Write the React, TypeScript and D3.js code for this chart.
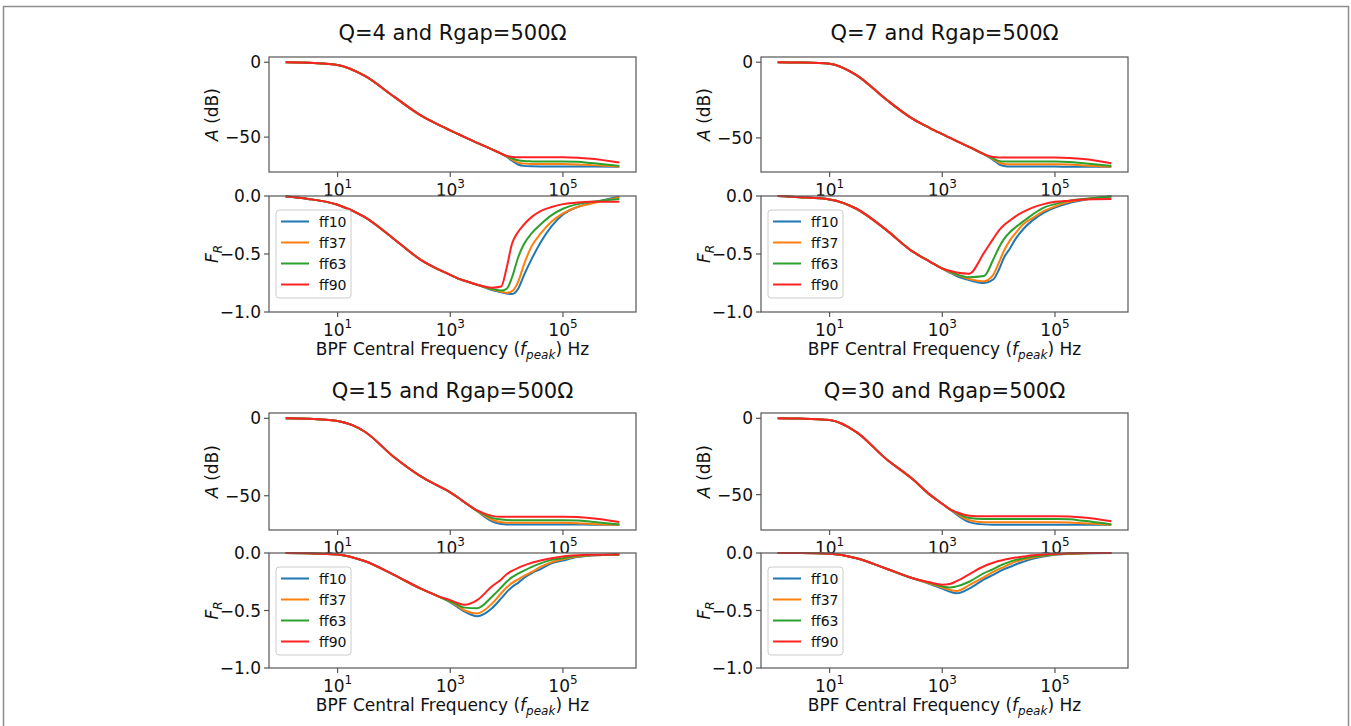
import React, { useEffect, useRef } from 'react';
import * as d3 from 'd3';

// BPF central frequencies (Hz) shared by every curve
const FREQ = [1.2, 3, 10, 30, 100, 300, 600, 1000, 1350, 1800, 3000, 5500, 8000, 10000, 12500, 16000, 20000, 28000, 40000, 63000, 100000, 180000, 320000, 1000000];

const SERIES = ['ff10', 'ff37', 'ff63', 'ff90'];
const COLORS = ['#1f77b4', '#ff7f0e', '#2ca02c', '#ff2222'];
const TITLES = ['Q=4 and Rgap=500Ω', 'Q=7 and Rgap=500Ω', 'Q=15 and Rgap=500Ω', 'Q=30 and Rgap=500Ω'];

// Q=4 : attenuation A (dB)
const Q4_A_FF10 = [0, -0.3, -1.8, -9, -23, -35.5, -41.5, -45.5, -47.8, -50, -53.8, -58.2, -61, -63.1, -65.8, -68.3, -69.2, -69.5, -69.6, -69.6, -69.6, -69.6, -69.7, -69.8];
const Q4_A_FF37 = [0, -0.3, -1.8, -9, -23, -35.5, -41.5, -45.5, -47.8, -50, -53.8, -58.2, -61, -62.9, -65, -67, -67.7, -68, -68, -68, -68, -68.2, -68.7, -69.6];
const Q4_A_FF63 = [0, -0.3, -1.8, -9, -23, -35.5, -41.5, -45.5, -47.8, -50, -53.8, -58.2, -61, -62.7, -64.3, -65.5, -66, -66.2, -66.3, -66.3, -66.3, -66.5, -67.3, -69.2];
const Q4_A_FF90 = [0, -0.3, -1.8, -9, -23, -35.5, -41.5, -45.5, -47.8, -50, -53.8, -58.2, -61, -62.5, -63.2, -63.5, -63.5, -63.5, -63.5, -63.5, -63.5, -63.8, -64.5, -67];
// Q=4 : F_R
const Q4_FR_FF10 = [-0.005, -0.025, -0.075, -0.18, -0.37, -0.55, -0.63, -0.68, -0.71, -0.73, -0.765, -0.81, -0.83, -0.84, -0.845, -0.8, -0.69, -0.54, -0.4, -0.26, -0.16, -0.095, -0.06, -0.006];
const Q4_FR_FF37 = [-0.005, -0.025, -0.075, -0.18, -0.37, -0.55, -0.63, -0.68, -0.71, -0.73, -0.765, -0.805, -0.825, -0.835, -0.82, -0.74, -0.6, -0.43, -0.325, -0.22, -0.15, -0.095, -0.065, -0.012];
const Q4_FR_FF63 = [-0.005, -0.025, -0.075, -0.18, -0.37, -0.55, -0.63, -0.68, -0.71, -0.73, -0.765, -0.8, -0.815, -0.8, -0.7, -0.53, -0.42, -0.32, -0.245, -0.165, -0.11, -0.07, -0.05, -0.025];
const Q4_FR_FF90 = [-0.005, -0.025, -0.075, -0.18, -0.37, -0.55, -0.63, -0.68, -0.71, -0.73, -0.765, -0.79, -0.78, -0.62, -0.41, -0.31, -0.25, -0.18, -0.13, -0.095, -0.07, -0.055, -0.05, -0.05];

// Q=7
const Q7_A_FF10 = [0, -0.2, -1, -8.5, -24.5, -37.5, -43.5, -47.5, -49.8, -52.1, -56, -60.8, -64.5, -67.3, -68.6, -69, -69, -69, -69, -69, -69, -69.1, -69.1, -69.1];
const Q7_A_FF37 = [0, -0.2, -1, -8.5, -24.5, -37.5, -43.5, -47.5, -49.8, -52.1, -56, -60.8, -64, -66.3, -67.2, -67.4, -67.4, -67.4, -67.4, -67.4, -67.4, -67.6, -68.2, -69];
const Q7_A_FF63 = [0, -0.2, -1, -8.5, -24.5, -37.5, -43.5, -47.5, -49.8, -52.1, -56, -60.8, -63.6, -65.2, -65.6, -65.6, -65.6, -65.6, -65.6, -65.6, -65.6, -65.9, -66.8, -68.5];
const Q7_A_FF90 = [0, -0.2, -1, -8.5, -24.5, -37.5, -43.5, -47.5, -49.8, -52.1, -56, -60.8, -62.7, -63, -63, -63, -63, -63, -63, -63, -63, -63.3, -64, -66.7];
const Q7_FR_FF10 = [0, -0.01, -0.03, -0.11, -0.29, -0.48, -0.565, -0.625, -0.66, -0.69, -0.725, -0.75, -0.72, -0.64, -0.53, -0.45, -0.37, -0.28, -0.21, -0.145, -0.1, -0.06, -0.035, -0.003];
const Q7_FR_FF37 = [0, -0.01, -0.03, -0.11, -0.29, -0.48, -0.565, -0.625, -0.655, -0.68, -0.715, -0.735, -0.68, -0.58, -0.47, -0.38, -0.32, -0.24, -0.19, -0.13, -0.09, -0.05, -0.03, -0.005];
const Q7_FR_FF63 = [0, -0.01, -0.03, -0.11, -0.29, -0.48, -0.565, -0.625, -0.65, -0.675, -0.7, -0.69, -0.55, -0.45, -0.37, -0.31, -0.27, -0.215, -0.16, -0.1, -0.07, -0.04, -0.025, -0.006];
const Q7_FR_FF90 = [0, -0.01, -0.03, -0.11, -0.29, -0.48, -0.565, -0.625, -0.645, -0.66, -0.67, -0.49, -0.37, -0.3, -0.25, -0.21, -0.175, -0.135, -0.1, -0.07, -0.05, -0.04, -0.03, -0.026];

// Q=15
const Q15_A_FF10 = [0, -0.3, -1.8, -8.5, -25, -37.5, -43.5, -47.8, -51, -54.3, -60, -66.5, -68.3, -68.6, -68.6, -68.6, -68.6, -68.6, -68.6, -68.6, -68.6, -68.6, -68.7, -68.7];
const Q15_A_FF37 = [0, -0.3, -1.8, -8.5, -25, -37.5, -43.5, -47.8, -51, -54.3, -59.8, -65.5, -67.2, -67.5, -67.5, -67.5, -67.5, -67.5, -67.5, -67.5, -67.5, -67.7, -68.2, -68.7];
const Q15_A_FF63 = [0, -0.3, -1.8, -8.5, -25, -37.5, -43.5, -47.8, -51, -54.3, -59.7, -64.3, -65.4, -65.7, -65.8, -65.8, -65.8, -65.8, -65.8, -65.8, -65.8, -66, -66.8, -68.6];
const Q15_A_FF90 = [0, -0.3, -1.8, -8.5, -25, -37.5, -43.5, -47.8, -51, -54.3, -59.5, -63, -63.6, -63.6, -63.6, -63.6, -63.6, -63.6, -63.6, -63.6, -63.6, -63.8, -64.5, -66.9];
const Q15_FR_FF10 = [0, -0.003, -0.012, -0.07, -0.19, -0.31, -0.375, -0.43, -0.47, -0.51, -0.55, -0.48, -0.395, -0.34, -0.295, -0.26, -0.22, -0.175, -0.14, -0.09, -0.065, -0.035, -0.022, -0.012];
const Q15_FR_FF37 = [0, -0.003, -0.012, -0.07, -0.19, -0.31, -0.375, -0.425, -0.46, -0.5, -0.525, -0.44, -0.35, -0.3, -0.26, -0.23, -0.2, -0.165, -0.12, -0.08, -0.055, -0.03, -0.02, -0.012];
const Q15_FR_FF63 = [0, -0.003, -0.012, -0.07, -0.19, -0.31, -0.375, -0.42, -0.45, -0.475, -0.48, -0.38, -0.3, -0.25, -0.21, -0.18, -0.155, -0.12, -0.09, -0.06, -0.045, -0.025, -0.018, -0.012];
const Q15_FR_FF90 = [0, -0.003, -0.012, -0.07, -0.19, -0.31, -0.375, -0.41, -0.435, -0.45, -0.41, -0.29, -0.23, -0.185, -0.155, -0.13, -0.11, -0.085, -0.065, -0.045, -0.03, -0.02, -0.015, -0.012];

// Q=30
const Q30_A_FF10 = [0, -0.2, -1.1, -9, -26.5, -40, -50, -56, -59.5, -63, -68, -69.5, -69.7, -69.7, -69.7, -69.7, -69.7, -69.7, -69.7, -69.7, -69.7, -69.7, -69.7, -69.7];
const Q30_A_FF37 = [0, -0.2, -1.1, -9, -26.5, -40, -50, -56, -59.5, -62.5, -66.8, -68.1, -68.1, -68.1, -68.1, -68.1, -68.1, -68.1, -68.1, -68.1, -68.1, -68.3, -68.8, -69.7];
const Q30_A_FF63 = [0, -0.2, -1.1, -9, -26.5, -40, -50, -56, -59.5, -62, -65.3, -65.9, -65.9, -65.9, -65.9, -65.9, -65.9, -65.9, -65.9, -65.9, -65.9, -66.2, -67.2, -69.5];
const Q30_A_FF90 = [0, -0.2, -1.1, -9, -26.5, -40, -50, -56, -59.5, -61.5, -63.8, -64.2, -64.2, -64.2, -64.2, -64.2, -64.2, -64.2, -64.2, -64.2, -64.2, -64.4, -65, -67.5];
const Q30_FR_FF10 = [0, -0.001, -0.006, -0.045, -0.135, -0.22, -0.27, -0.31, -0.335, -0.35, -0.31, -0.23, -0.19, -0.165, -0.14, -0.12, -0.1, -0.075, -0.05, -0.03, -0.016, -0.008, -0.003, 0];
const Q30_FR_FF37 = [0, -0.001, -0.006, -0.045, -0.135, -0.22, -0.265, -0.3, -0.32, -0.33, -0.28, -0.21, -0.165, -0.14, -0.12, -0.095, -0.075, -0.055, -0.04, -0.025, -0.013, -0.006, -0.002, 0];
const Q30_FR_FF63 = [0, -0.001, -0.006, -0.045, -0.135, -0.22, -0.26, -0.29, -0.3, -0.29, -0.25, -0.175, -0.14, -0.115, -0.095, -0.075, -0.06, -0.045, -0.03, -0.02, -0.01, -0.005, -0.002, 0];
const Q30_FR_FF90 = [0, -0.001, -0.006, -0.045, -0.135, -0.22, -0.255, -0.275, -0.27, -0.245, -0.185, -0.115, -0.085, -0.07, -0.058, -0.048, -0.04, -0.03, -0.02, -0.012, -0.006, -0.003, -0.001, 0];

const GAIN = [
  [Q4_A_FF10, Q4_A_FF37, Q4_A_FF63, Q4_A_FF90],
  [Q7_A_FF10, Q7_A_FF37, Q7_A_FF63, Q7_A_FF90],
  [Q15_A_FF10, Q15_A_FF37, Q15_A_FF63, Q15_A_FF90],
  [Q30_A_FF10, Q30_A_FF37, Q30_A_FF63, Q30_A_FF90],
];
const FR = [
  [Q4_FR_FF10, Q4_FR_FF37, Q4_FR_FF63, Q4_FR_FF90],
  [Q7_FR_FF10, Q7_FR_FF37, Q7_FR_FF63, Q7_FR_FF90],
  [Q15_FR_FF10, Q15_FR_FF37, Q15_FR_FF63, Q15_FR_FF90],
  [Q30_FR_FF10, Q30_FR_FF37, Q30_FR_FF63, Q30_FR_FF90],
];

const X_TICKS = [10, 1000, 100000];
const GAIN_TICKS = [0, -50];
const FR_TICKS = [0, -0.5, -1];

const W = 1351;
const H = 726;
const FONT = 'DejaVu Sans, sans-serif';
const AXIS_COLOR = '#555';
const TEXT_COLOR = '#111';
const COLS = [{ left: 269, right: 636 }, { left: 761, right: 1128 }];
const ROWS = [
  { title: 40, gain: [57, 172], fr: [196, 312] },
  { title: 398, gain: [413, 530], fr: [553, 668] },
];

const minus = (s: string) => s.replace('-', '\u2212');

export default function App() {
  const ref = useRef<SVGSVGElement>(null);

  useEffect(() => {
    const svg = d3.select(ref.current);
    svg.selectAll('*').remove();

    svg.append('rect').attr('width', W).attr('height', H).attr('fill', '#fff');

    // page frame
    svg.append('path')
      .attr('d', `M3.5,${H} V6.5 H1348.5 V${H}`)
      .attr('fill', 'none')
      .attr('stroke', '#8c8c8c')
      .attr('stroke-width', 1.5);

    const [lo, hi] = d3.extent(FREQ).map(Math.log10) as [number, number];
    const pad = (hi - lo) * 0.05;

    const drawPlot = (g, x, y, top, bottom, data, ticks, fmt, isFr) => {
      const [left, right] = x.range();
      g.append('rect')
        .attr('x', left).attr('y', top)
        .attr('width', right - left).attr('height', bottom - top)
        .attr('fill', '#fff');

      const line = d3.line<number>()
        .x((_, i) => x(FREQ[i]))
        .y((d) => y(d))
        .curve(d3.curveMonotoneX);

      data.forEach((vals, k) => {
        g.append('path')
          .attr('d', line(vals))
          .attr('fill', 'none')
          .attr('stroke', COLORS[k])
          .attr('stroke-width', 2);
      });

      g.append('rect')
        .attr('x', left).attr('y', top)
        .attr('width', right - left).attr('height', bottom - top)
        .attr('fill', 'none')
        .attr('stroke', AXIS_COLOR)
        .attr('stroke-width', 1.2);

      // y ticks
      ticks.forEach((t) => {
        const yy = y(t);
        g.append('line')
          .attr('x1', left - 5).attr('x2', left)
          .attr('y1', yy).attr('y2', yy)
          .attr('stroke', AXIS_COLOR).attr('stroke-width', 1.2);
        g.append('text')
          .attr('x', left - 8).attr('y', yy + 6)
          .attr('text-anchor', 'end')
          .attr('font-size', 17).attr('font-family', FONT)
          .attr('fill', TEXT_COLOR)
          .text(minus(fmt(t)));
      });

      // x ticks
      X_TICKS.forEach((t) => {
        const xx = x(t);
        g.append('line')
          .attr('x1', xx).attr('x2', xx)
          .attr('y1', bottom).attr('y2', bottom + 5)
          .attr('stroke', AXIS_COLOR).attr('stroke-width', 1.2);
        const txt = g.append('text')
          .attr('x', xx).attr('y', bottom + 24)
          .attr('text-anchor', 'middle')
          .attr('font-size', 17).attr('font-family', FONT)
          .attr('fill', TEXT_COLOR);
        txt.append('tspan').text('10');
        txt.append('tspan').attr('font-size', 12).attr('dy', -8).text(String(Math.round(Math.log10(t))));
      });

      // y label
      const cy = (top + bottom) / 2;
      const lab = g.append('text')
        .attr('transform', `translate(${left - 51},${cy}) rotate(-90)`)
        .attr('text-anchor', 'middle')
        .attr('font-size', 17).attr('font-family', FONT)
        .attr('fill', TEXT_COLOR);
      if (isFr) {
        lab.append('tspan').attr('font-style', 'italic').text('F');
        lab.append('tspan').attr('font-style', 'italic').attr('font-size', 12).attr('dy', 4).text('R');
      } else {
        lab.append('tspan').attr('font-style', 'italic').text('A');
        lab.append('tspan').text(' (dB)');
      }
    };

    for (let p = 0; p < 4; p++) {
      const col = COLS[p % 2];
      const row = ROWS[Math.floor(p / 2)];
      const g = svg.append('g');
      const cx = (col.left + col.right) / 2;

      const x = d3.scaleLog()
        .domain([10 ** (lo - pad), 10 ** (hi + pad)])
        .range([col.left, col.right]);

      const [gmin, gmax] = d3.extent(GAIN[p].flat()) as [number, number];
      const gpad = (gmax - gmin) * 0.05;
      const yA = d3.scaleLinear()
        .domain([gmin - gpad, gmax + gpad])
        .range([row.gain[1], row.gain[0]]);
      const yF = d3.scaleLinear().domain([-1, 0]).range([row.fr[1], row.fr[0]]);

      g.append('text')
        .attr('x', cx).attr('y', row.title)
        .attr('text-anchor', 'middle')
        .attr('font-size', 21).attr('font-family', FONT)
        .attr('fill', TEXT_COLOR)
        .text(TITLES[p]);

      drawPlot(g, x, yA, row.gain[0], row.gain[1], GAIN[p], GAIN_TICKS, d3.format('d'), false);
      drawPlot(g, x, yF, row.fr[0], row.fr[1], FR[p], FR_TICKS, d3.format('.1f'), true);

      // x label
      const xl = g.append('text')
        .attr('x', cx).attr('y', row.fr[1] + 43)
        .attr('text-anchor', 'middle')
        .attr('font-size', 17).attr('font-family', FONT)
        .attr('fill', TEXT_COLOR);
      xl.append('tspan').text('BPF Central Frequency (');
      xl.append('tspan').attr('font-style', 'italic').text('f');
      xl.append('tspan').attr('font-style', 'italic').attr('font-size', 12).attr('dy', 4).text('peak');
      xl.append('tspan').attr('dy', -4).text(') Hz');

      // legend
      const lx = col.left + 7;
      const ly = row.fr[0] + 14;
      g.append('rect')
        .attr('x', lx).attr('y', ly)
        .attr('width', 75).attr('height', 88)
        .attr('rx', 3)
        .attr('fill', 'rgba(255,255,255,0.8)')
        .attr('stroke', '#cccccc');
      SERIES.forEach((name, k) => {
        const yy = ly + 11.5 + k * 21;
        g.append('line')
          .attr('x1', lx + 5).attr('x2', lx + 33)
          .attr('y1', yy).attr('y2', yy)
          .attr('stroke', COLORS[k]).attr('stroke-width', 2);
        g.append('text')
          .attr('x', lx + 43).attr('y', yy + 5)
          .attr('font-size', 14).attr('font-family', FONT)
          .attr('fill', TEXT_COLOR)
          .text(name);
      });
    }
  }, []);

  return (
    <svg
      ref={ref}
      width={W}
      height={H}
      style={{ position: 'absolute', left: 0, top: 0, display: 'block' }}
    />
  );
}
